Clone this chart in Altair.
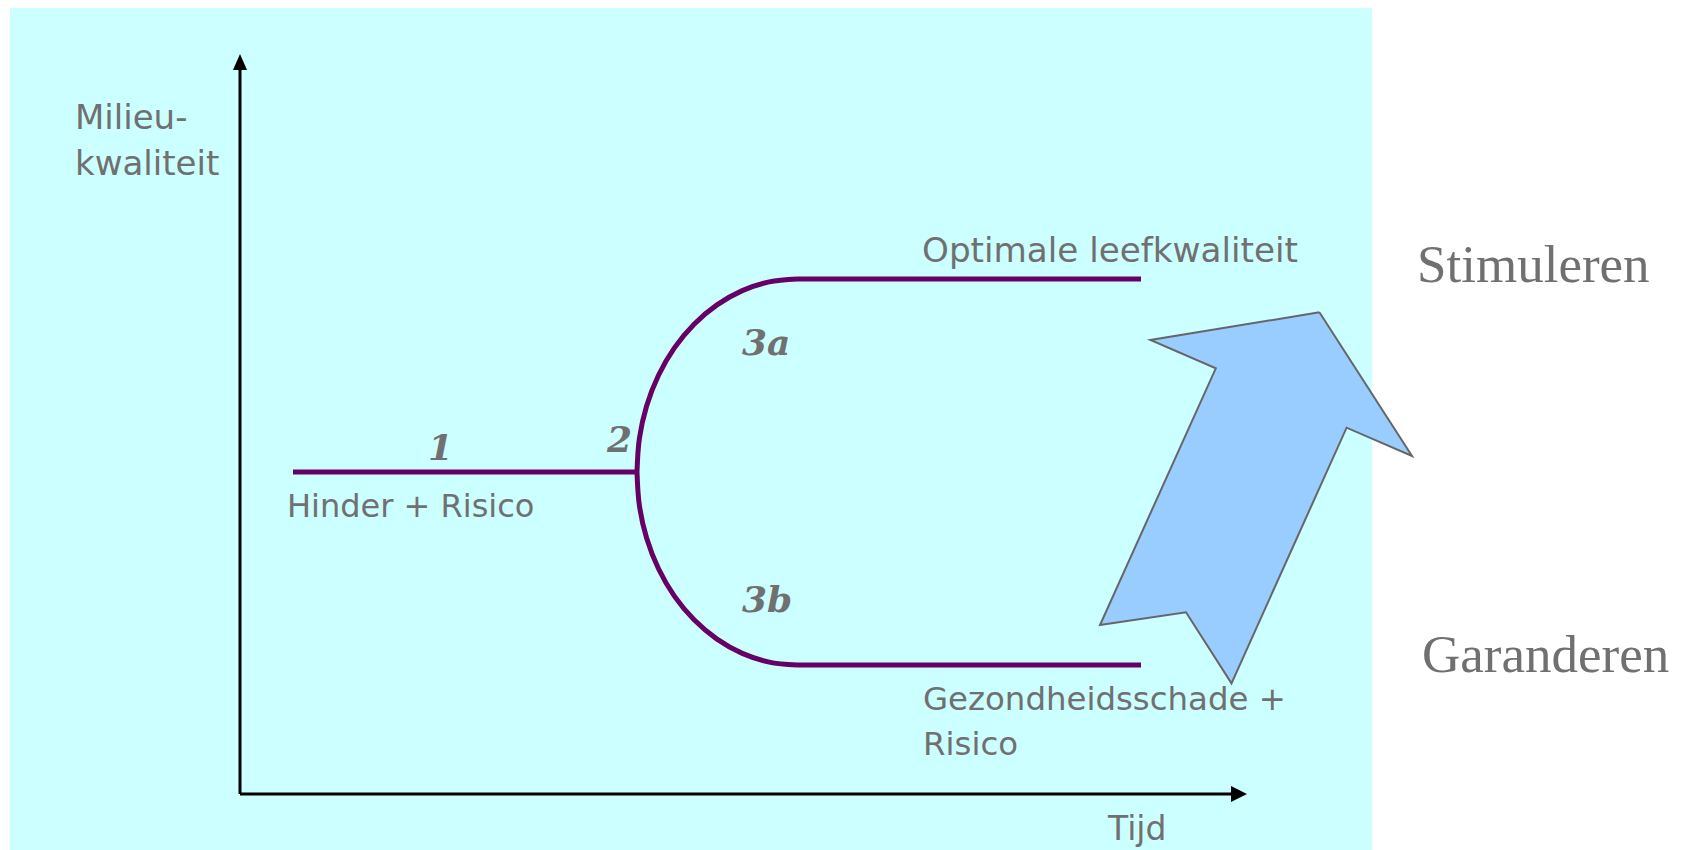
import altair as alt
import pandas as pd

W, H = 1670, 842
X0, Y0 = 8, 8

# ---- data (page-pixel coordinates) ----
panel_x, panel_x2, panel_y, panel_y2 = [10], [1372], [8], [850]

axis_x = [240, 240]
axis_x2 = [240, 1232]
axis_y = [70, 794]
axis_y2 = [794, 794]

head_up = {"x": [240], "y": [62]}
head_right = {"x": [1239], "y": [794]}

seg_x = [293, 797, 797]
seg_x2 = [637, 1141, 1141]
seg_y = [472, 279, 665]

arc_up_x = [637, 639.4, 646.6, 658.4, 674.4, 694.1, 717, 742.3, 769.2, 797]
arc_up_y = [472, 438.4, 406.0, 375.5, 347.9, 324.2, 304.9, 290.6, 281.9, 279]
arc_dn_x = [637, 639.4, 646.6, 658.4, 674.4, 694.1, 717, 742.3, 769.2, 797]
arc_dn_y = [472, 505.6, 538.0, 568.5, 596.1, 619.8, 639.1, 653.4, 662.1, 665]

arrow_x = [1319.4, 1412.0, 1346.6, 1231.5, 1186.0, 1100.0, 1215.8, 1150.4, 1319.4]
arrow_y = [312.3, 456.0, 427.7, 683.3, 612.3, 625.0, 368.3, 340.0, 312.3]

sans_labels = ["Milieu-", "kwaliteit", "Optimale leefkwaliteit", "Hinder + Risico",
               "Gezondheidsschade +", "Risico", "Tijd"]
sans_x = [75, 75, 922, 287, 923, 923, 1108]
sans_y = [129, 175, 262, 517, 710, 755, 840]
sans_fs = [34, 34, 34.2, 32, 32.4, 32.4, 33]

num_labels = ["1", "2", "3a", "3b"]
num_x = [428, 607, 742, 742]
num_y = [460, 452, 355, 612]

serif_labels = ["Stimuleren", "Garanderen"]
serif_x = [1417, 1422]
serif_y = [282, 672]

GRAY = "#707070"
PURPLE = "#660066"

xs = alt.Scale(domain=[X0, X0 + W], nice=False, zero=False)
ys = alt.Scale(domain=[Y0, Y0 + H], nice=False, zero=False, reverse=True)


def X(f="x"):
    return alt.X(f"{f}:Q", scale=xs, axis=None)


def Y(f="y"):
    return alt.Y(f"{f}:Q", scale=ys, axis=None)


bg = alt.Chart(pd.DataFrame({"x": panel_x, "x2": panel_x2, "y": panel_y, "y2": panel_y2})).mark_rect(
    color="#CCFFFF"
).encode(x=X(), x2="x2:Q", y=Y(), y2="y2:Q")

axes = alt.Chart(pd.DataFrame({"x": axis_x, "x2": axis_x2, "y": axis_y, "y2": axis_y2})).mark_rule(
    color="black", strokeWidth=3
).encode(x=X(), x2="x2:Q", y=Y(), y2="y2:Q")

up = alt.Chart(pd.DataFrame(head_up)).mark_point(
    shape="M0,-1L0.875,1L-0.875,1Z", filled=True, color="black", size=256, opacity=1
).encode(x=X(), y=Y())

right = alt.Chart(pd.DataFrame(head_right)).mark_point(
    shape="M1,0L-1,1L-1,-1Z", filled=True, color="black", size=256, opacity=1
).encode(x=X(), y=Y())

segs = alt.Chart(pd.DataFrame({"x": seg_x, "x2": seg_x2, "y": seg_y})).mark_rule(
    color=PURPLE, strokeWidth=5, strokeCap="butt"
).encode(x=X(), x2="x2:Q", y=Y())

arc_df = pd.DataFrame({
    "x": arc_up_x + arc_dn_x,
    "y": arc_up_y + arc_dn_y,
    "branch": ["a"] * len(arc_up_x) + ["b"] * len(arc_dn_x),
    "i": list(range(len(arc_up_x))) + list(range(len(arc_dn_x))),
})
arcs = alt.Chart(arc_df).mark_line(
    color=PURPLE, strokeWidth=5, interpolate="catmull-rom", strokeCap="butt"
).encode(x=X(), y=Y(), detail="branch:N", order="i:Q")

arrow = alt.Chart(pd.DataFrame({"x": arrow_x, "y": arrow_y, "i": list(range(len(arrow_x)))})).mark_line(
    filled=True, fill="#99CCFF", stroke="#666666", strokeWidth=2, strokeJoin="miter"
).encode(x=X(), y=Y(), order="i:Q")

sans = alt.Chart(pd.DataFrame({"t": sans_labels, "x": sans_x, "y": sans_y, "fs": sans_fs})).mark_text(
    align="left", baseline="alphabetic", font="DejaVu Sans", color=GRAY
).encode(x=X(), y=Y(), text="t:N", size=alt.Size("fs:Q", scale=None))

nums = alt.Chart(pd.DataFrame({"t": num_labels, "x": num_x, "y": num_y})).mark_text(
    align="left", baseline="alphabetic", font="DejaVu Serif", fontStyle="italic",
    fontWeight="bold", fontSize=36, color=GRAY
).encode(x=X(), y=Y(), text="t:N")

serif = alt.Chart(pd.DataFrame({"t": serif_labels, "x": serif_x, "y": serif_y})).mark_text(
    align="left", baseline="alphabetic", font="Liberation Serif", fontSize=53, color=GRAY
).encode(x=X(), y=Y(), text="t:N")

chart = alt.layer(bg, axes, up, right, segs, arcs, arrow, sans, nums, serif).properties(
    width=W, height=H, padding=0, autosize="none", background="white"
).configure_view(stroke=None)

chart.save("out.html", embed_options={"renderer": "svg", "actions": False})
